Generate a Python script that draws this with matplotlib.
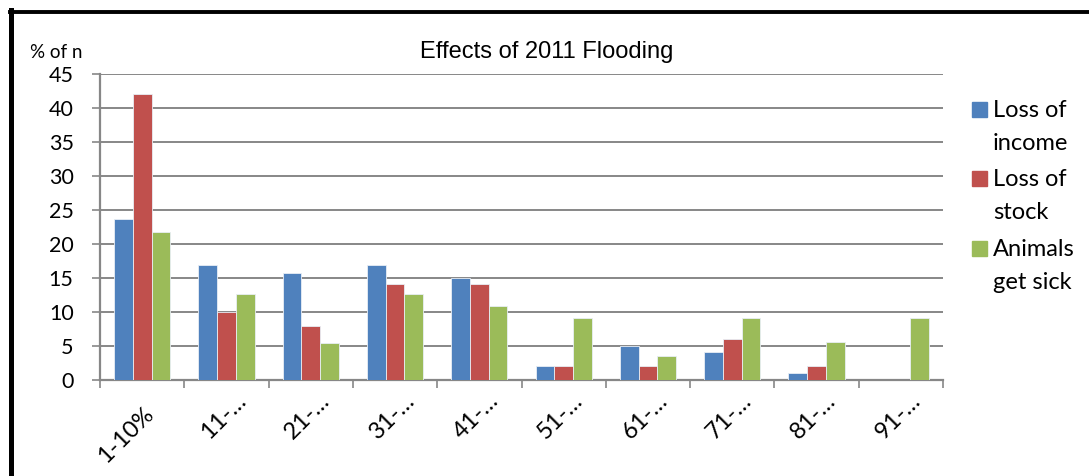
import numpy as np
import matplotlib.pyplot as plt
import matplotlib.transforms as mtransforms
from matplotlib.patches import Rectangle
from matplotlib.lines import Line2D

# rangos de porcentaje
rangos = ["1-10%", "11-…", "21-…", "31-…", "41-…",
          "51-…", "61-…", "71-…", "81-…", "91-…"]

# % de encuestados por efecto
perdida_ingreso = [23.7, 16.8, 15.7, 16.8, 14.9, 2.0, 5.0, 4.0, 1.0, 0.0]
perdida_stock = [42.0, 10.0, 7.9, 14.0, 14.0, 2.0, 2.0, 6.0, 2.0, 0.0]
animales_enfermos = [21.7, 12.6, 5.4, 12.6, 10.8, 9.1, 3.5, 9.1, 5.5, 9.1]

series = [
    ("Loss of\nincome", perdida_ingreso, "#4F81BD"),
    ("Loss of\nstock", perdida_stock, "#C0504D"),
    ("Animals\nget sick", animales_enfermos, "#9BBB59"),
]

fuente = "Lato"
gris = "#878787"

W, H = 1089, 476
fig = plt.figure(figsize=(W / 100, H / 100), dpi=100)
ax = fig.add_axes([100 / W, (H - 379.5) / H, 843 / W, (379.5 - 74) / H])

x = np.arange(len(rangos))
ancho = 0.222
for i, (nombre, valores, color) in enumerate(series):
    ax.bar(x + (i - 1) * ancho, valores, ancho, color=color,
           edgecolor="#e8eef5", linewidth=0.6, zorder=3)

ax.set_xlim(-0.5, len(rangos) - 0.5)
ax.set_ylim(0, 45)
ax.set_yticks(np.arange(0, 46, 5))
ax.grid(axis="y", color=gris, linewidth=1.4, zorder=0)

for s in ["top", "right"]:
    ax.spines[s].set_visible(False)
for s in ["left", "bottom"]:
    ax.spines[s].set_color(gris)
    ax.spines[s].set_linewidth(1.6)

ax.tick_params(axis="y", colors=gris, length=6, width=1.2, pad=13,
               labelcolor="black", labelsize=15.5)
for t in ax.get_yticklabels():
    t.set_fontfamily(fuente)

# marcas entre categorias, etiquetas en el centro
ax.set_xticks(np.arange(-0.5, len(rangos)), minor=False)
ax.set_xticklabels([])
ax.set_xticks(x, minor=True)
ax.set_xticklabels(rangos, minor=True, rotation=45, ha="right",
                   va="center", rotation_mode="anchor",
                   fontsize=17, family=fuente)
ax.tick_params(axis="x", which="major", colors=gris, length=6, width=1.2)
ax.tick_params(axis="x", which="minor", length=0, pad=0)

for k, lab in enumerate(ax.xaxis.get_minorticklabels()):
    dx, dy = (8, -31) if k == 0 else (16, -18)
    off = mtransforms.ScaledTranslation(dx / 100, dy / 100, fig.dpi_scale_trans)
    lab.set_transform(lab.get_transform() + off)

fig.text(547 / W, 1 - 52 / H, "Effects of 2011 Flooding", ha="center",
         va="center", fontsize=17, family="Liberation Sans")
fig.text(30 / W, 1 - 53 / H, "% of n", ha="left", va="center",
         fontsize=13.5, family=fuente)

# leyenda
y0 = 101.7
for nombre, valores, color in series:
    fig.add_artist(Rectangle((972 / W, 1 - (y0 + 15) / H), 15 / W, 15 / H,
                             transform=fig.transFigure, color=color))
    fig.text(993 / W, 1 - (y0 - 2) / H, nombre, ha="left", va="top",
             fontsize=17, family=fuente, linespacing=1.7)
    y0 += 69.5

# marco
fig.add_artist(Line2D([10 / W, 1], [1 - 11.5 / H, 1 - 11.5 / H],
                      transform=fig.transFigure, color="black", linewidth=2.8))
fig.add_artist(Line2D([11 / W, 11 / W], [1 - 10 / H, 0],
                      transform=fig.transFigure, color="black", linewidth=3.6))

fig.savefig("out.png", dpi=100)
